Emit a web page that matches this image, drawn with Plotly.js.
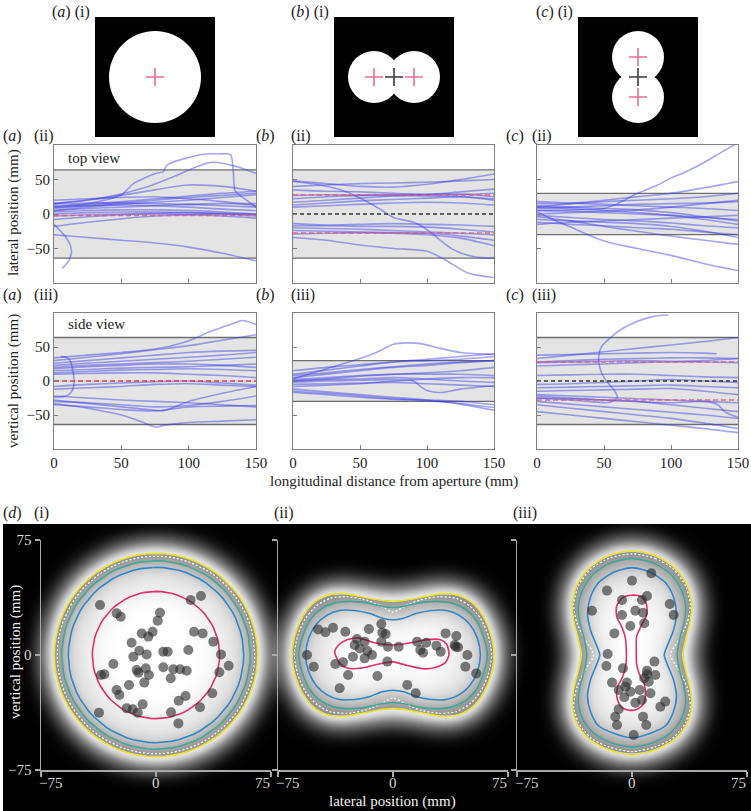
<!DOCTYPE html>
<html><head><meta charset="utf-8">
<script src="https://cdn.plot.ly/plotly-3.0.1.min.js"></script>
<style>html,body{margin:0;padding:0;background:#fff}#chart{width:751px;height:811px}</style>
</head><body><div id="chart"></div>
<script>
const W=751,H=811;
// ================= DATA =================
const X7=[0,25,50,75,100,125,150];
const longTicks=[0,50,100,150];
const posTicks=[-50,0,50];
const dTicks=[-75,0,75];
const dTickText=['\u221275','0','75'];

// aperture images (i): circle centres (mm) and radii
const apCx=[[0],[-25,25],[0,0]];
const apCy=[[0],[0,0],[25,-25]];
const apR=[57.5,32.5,32.5];
const apMidCross=[false,true,true];

// gray band half-widths (top view row, side view row)
const bandTop=[64,64,30];
const bandSide=[64,30,64];
// reference dashed lines
const redTop=[[-2],[27.5,-27.5],[]];
const blackTop=[[],[0],[]];
const redSide=[[0],[],[28,-28]];
const blackSide=[[],[],[0]];

// trajectories: 7 values on X7, or [xs, ys]
const aTop=[
 [[0,25,50,59,76,81,84,98,113,123,131,133,134.5,138,143,150],[10,15,28,44,59,61,71,81,87,87,86,64,34,27,20,10]],
 [[0,40,70,90,108,118,135,150],[15,25,40,55,70,75,69,59]],
 [15,20,27,35,42,40,33],
 [12,14,18,22,26,30,33],
 [8,12,16,20,24,27,30],
 [15,16,16,15,14,12,10],
 [10,12,13,12,10,7,5],
 [5,8,10,12,14,15,15],
 [3,5,6,6,5,3,0],
 [0,2,3,3,2,0,-3],
 [-3,-1,0,0,-1,-3,-6],
 [-8,-4,-1,1,2,1,-1],
 [-18,-12,-7,-3,-1,0,0],
 [-30,-34,-38,-42,-48,-57,-68],
 [[0,5,9,12,13,11,8,6],[-15,-25,-34,-45,-55,-68,-75,-79]],
 [20,22,24,25,22,18,12],
 [5,10,14,17,20,24,28]
];
const bTop=[
 [48,44,40,39,43,50,58],
 [40,42,44,45,46,48,50],
 [[0,20,40,55,65,75,90,98,108,120,135,150],[47,42,32,18,7,-5,-12,-20,-35,-52,-62,-64]],
 [35,33,32,30,28,28,30],
 [27,28,27,27,26,25,22],
 [22,25,27,28,29,29,25],
 [17,20,23,26,28,32,36],
 [13,16,19,21,23,25,20],
 [10,12,14,16,17,16,13],
 [-17,-17,-18,-18,-19,-22,-26],
 [-20,-21,-22,-24,-26,-28,-30],
 [-24,-25,-26,-27,-28,-32,-38],
 [-29,-28,-27,-28,-30,-35,-46],
 [[0,25,50,75,100,115,130,150],[-34,-38,-45,-50,-54,-68,-85,-92]],
 [-14,-16,-15,-14,-15,-16,-18]
];
const cTop=[
 [[0,25,50,60,75,90,100,112,125,138,150],[5,6,8,15,30,42,52,62,75,90,103]],
 [10,15,20,25,30,38,47],
 [15,15,18,20,22,25,30],
 [[0,12,25,50,75,100,125,150],[3,-8,-19,-39,-50,-60,-72,-82]],
 [-4,-10,-18,-25,-32,-38,-44],
 [8,10,12,14,15,16,18],
 [5,4,2,0,-2,-5,-8],
 [12,10,8,6,2,-4,-10],
 [-2,-5,-8,-10,-13,-17,-20],
 [-8,-10,-12,-14,-18,-25,-34],
 [0,2,4,6,10,15,20],
 [-12,-15,-17,-20,-22,-26,-30],
 [10,8,5,2,-2,-8,-15],
 [18,16,14,12,10,8,5],
 [-15,-12,-10,-8,-6,-4,-2]
];
const aSide=[
 [[0,25,50,75,95,105,115,125,135,140,150],[34,38,42,47,56,63,72,79,86,89,83]],
 [30,35,40,46,52,60,68],
 [26,30,34,38,42,44,45],
 [23,26,29,32,35,38,42],
 [20,23,25,27,29,32,35],
 [18,21,23,25,25,23,20],
 [15,17,19,20,21,23,25],
 [12,14,16,17,18,17,15],
 [10,11,12,12,10,8,5],
 [[5,9,12,14,15,14,11,6,0],[36,35,30,15,0,-12,-20,-23,-24]],
 [-8,-5,-3,-1,0,-3,-6],
 [-12,-10,-8,-5,-4,-6,-8],
 [-22,-25,-28,-30,-32,-35,-38],
 [[0,25,50,75,80,90,100,125,150],[-28,-33,-38,-43,-44,-38,-30,-18,-8]],
 [[0,25,50,65,76,80,90,100,125,150],[-33,-40,-50,-60,-68,-66,-63,-61,-59,-57]],
 [-30,-32,-35,-38,-36,-30,-22],
 [-35,-38,-42,-44,-38,-37,-36]
];
const bSide=[
 [[0,25,50,62,75,85,95,110,125,150],[3,18,33,42,54,56,55,48,42,39]],
 [10,16,22,28,32,36,40],
 [15,20,24,28,30,32,36],
 [8,12,17,21,25,28,30],
 [2,5,8,10,10,10,8],
 [0,2,3,5,3,0,-2],
 [0,3,7,10,12,15,20],
 [[0,25,50,75,90,95,100,110,125,150],[-2,0,1,2,0,-8,-14,-17,-12,-7]],
 [-5,-4,-3,-2,-4,-6,-8],
 [-15,-18,-22,-26,-29,-33,-39],
 [-12,-16,-20,-24,-28,-34,-43],
 [-17,-20,-24,-27,-28,-30,-35],
 [5,10,15,20,23,27,30],
 [-8,-6,-4,0,3,5,5]
];
const cSide=[
 [[0,25,45,52,57,60,58,54,50,47,46,48,55,62,74,87,98],[-25,-28,-31,-32,-29,-24,-15,-5,5,19,35,50,64,75,87,95,97]],
 [33,38,43,48,53,58,64],
 [[0,25,50,75,100,125,134],[38,39,40,41,42,41,40]],
 [28,30,32,33,34,34,33],
 [27,28,29,30,29,28,27],
 [22,24,25,27,28,30,33],
 [8,9,10,10,8,6,5],
 [-5,-4,-2,0,2,0,-2],
 [-10,-9,-8,-7,-6,-8,-10],
 [-15,-14,-13,-12,-11,-15,-20],
 [-20,-22,-24,-26,-28,-30,-32],
 [-25,-26,-28,-30,-35,-40,-45],
 [[0,50,100,125,135,140,145,150],[-22,-28,-32,-30,-35,-45,-50,-53]],
 [-35,-40,-45,-50,-55,-62,-70],
 [-45,-50,-55,-60,-65,-70,-76],
 [-30,-34,-38,-42,-46,-50,-55]
];

// (d) contour levels
const contourNames=['yellow','wdash','teal','blue','pink'];
const d1Radii=[66.3,64.4,61.5,57.2,41.5];
// (d)(ii) first-quadrant points, from (xmax,0) to (0,neck)
const d2YellowX=[66,64,59,52,43,32,20,10,0], d2YellowY=[0,13,25,34,39,40,38,36,35];
const d2WdashX=[64.4,62,57,50,41,30,18,8,0],  d2WdashY=[0,13,24,32,37,38,36,32,28];
const d2TealX=[61.5,59,54,47,38,28,17,8,0],   d2TealY=[0,12,23,30,34,35,34,32,31];
const d2BlueX=[57,55,50,43,35,25,15,7,0],     d2BlueY=[0,11,20,26,29,29,27,24,23];
const d2PinkX=[-38,-35,-30,-22,-12,0,12,22,31,35,36.5,34,28,20,10,0,-10,-20,-30,-35,-38];
const d2PinkY=[2,7,10,11,8,6.5,8,10,10,7,0,-5,-8,-9,-7,-4.5,-6,-8.5,-8.5,-5,2];
// (d)(iii) right half, top to bottom
const d3YellowX=[0,15,28,36,39,38,35,33,35,38,39,36,28,15,0], d3YellowY=[68,65,57,46,34,22,10,0,-10,-22,-34,-45,-55,-62,-65];
const d3WdashX=[0,15,27,35,38,36,30,25,30,36,38,35,27,15,0],  d3WdashY=[66,63,56,45,33,21,9,0,-9,-21,-33,-44,-54,-60,-63];
const d3TealX=[0,14,25,32,35,34,31,29.5,31,34,35,32,25,14,0], d3TealY=[63,60,53,43,32,21,10,0,-10,-21,-32,-42,-51,-57,-60];
const d3BlueX=[0,12,22,27,29,27,23,21,23,27,29,27,22,12,0],   d3BlueY=[57,54,47,38,27,16,6,0,-6,-16,-27,-37,-46,-51,-54];
const d3PinkX=[0,6,9.5,9.5,6,3,2.8,3,5,8,8.7,7.5,3,-2,-7,-9.8,-9.5,-6,-4,-3.7,-4.5,-7,-10,-10,-6,0];
const d3PinkY=[39,38,33,26,19,12,3,-6,-13,-19,-26,-32,-35.5,-36,-34,-28,-21,-14,-6,3,12,19,25,32,37.5,39];

// (d) landing points
const d1PtsX=[-36.5,-25.7,-23,2.6,1.1,22.6,29.3,-9.3,-5,-2.2,24.8,30.4,-15.9,37.4,-10.9,-14.8,-6.1,4.8,7.6,21.1,42.4,-27.8,47.4,41.3,-35.9,-33.7,-12.6,-11.5,-6.7,-4.6,4.8,11.3,15.7,20,9.6,-7.6,-17.6,-25.7,-23.9,19.3,14.8,36.7,-8.7,-19.1,-15.2,-11.9,-37.2,9.8,28.7,14.6];
const d1PtsY=[32.6,27.2,25,27.6,22.4,35.9,38.5,14.1,12,15.2,15.2,14.1,8,8.7,2.8,-1.1,0.4,2.2,2.2,3.3,0.4,-5.9,-7,-11.3,-13,-12.6,-9.8,-11.5,-8.7,-13,-8,-9.3,-9.3,-10.2,-15.2,-18,-19.6,-22.8,-26,-26.7,-29.8,-25,-32.2,-34.8,-35.4,-37.6,-37.6,-37.4,-34.1,-44.6];
const d2PtsX=[-48.9,-44.1,-39.1,-31.1,-23.5,-15.7,-7.6,-7,-4.8,-7.6,-18.5,-25,-21.7,-16.7,-13.7,-18.5,-26.1,-3.3,3.7,-3.7,-37.6,-32.6,-56.1,-51.7,-29.3,-34.8,-10.2,9.3,14.8,15.7,21.7,17.8,19.6,28.3,31.1,34.3,41.3,40.2,42.4,48.5,47.2,54.3,40.9];
const d2PtsY=[16.7,14.8,17.8,15.2,10.4,17,20.2,14.6,13.7,8.7,8.7,6.5,4.3,2.6,0,-2.2,-1.1,5.4,5.4,-4.3,-5.9,-4.8,0,-7.6,-13,-21.7,-13.7,-19.6,-25,8.7,8,3.3,1.5,6.1,2.2,14.1,12.4,6.5,5,0,-7.6,-12,5.4];
const d3PtsX=[12.6,0,-16.3,-6.5,9.8,6.5,24.6,27.2,-26.1,-6.5,2.2,7.2,-1.1,8,-11.5,-15.9,-16.7,-5.9,14.6,9.8,15.2,8,-13,-3.3,-4.3,-1.1,5,12,-5,2.2,6.5,-8.7,-10.9,-9.8,7.2,9.3,1.1,18.5,21.7,10.9,-8.7,9.8];
const d3PtsY=[53.3,48.5,42,35.9,38.5,35.9,33.3,26.1,28.9,26.1,28.9,27.6,18.9,20.7,14.1,0.7,-7.2,-8.7,-4.3,-12.6,-13,-15.2,-18,-18,-20.7,-23.9,-22.8,-25,-27.6,-31.1,-29.3,-35.4,-40.2,-45.7,-40.2,-45.7,-52.2,-33.7,-30.4,-17.4,-22.8,-10.2];

// ================= STYLES / POSITIONS =================
const COL={yellow:'#ece22a',wdash:'#ffffff',teal:'#43a596',blue:'#2f86c8',pink:'#e2306c'};
const SERIF='Liberation Serif';
const topXpx=[[95,215],[334,454],[578,698]]; const topYpx=[17,137];
const midXpx=[[54,256],[293,494],[537,738]]; const rowIIpx=[145,283], rowIIIpx=[313,449];
const dXpx=[[41,271],[278,508],[517,747]]; const dYpx=[540,770];
const px=x=>x/W, py=y=>1-y/H;
const sfx=n=>n===1?'':String(n);

const data=[], shapes=[], annotations=[];
const layout={width:W,height:H,margin:{l:0,r:0,t:0,b:0},paper_bgcolor:'#ffffff',
  plot_bgcolor:'rgba(0,0,0,0)',showlegend:false,font:{family:SERIF,color:'#222'}};

// ---------- top aperture images ----------
for(let i=0;i<3;i++){
  const n=i+1,s=sfx(n);
  layout['xaxis'+s]={domain:[px(topXpx[i][0]),px(topXpx[i][1])],range:[-75,75],visible:false,anchor:'y'+s,fixedrange:true};
  layout['yaxis'+s]={domain:[py(topYpx[1]),py(topYpx[0])],range:[-75,75],visible:false,anchor:'x'+s,fixedrange:true};
  shapes.push({type:'rect',xref:'x'+s,yref:'y'+s,x0:-75,x1:75,y0:-75,y1:75,fillcolor:'#000',line:{width:0},layer:'below'});
  apCx[i].forEach((cx,j)=>{const cy=apCy[i][j],r=apR[i];
    shapes.push({type:'circle',xref:'x'+s,yref:'y'+s,x0:cx-r,x1:cx+r,y0:cy-r,y1:cy+r,fillcolor:'#fff',line:{width:0},layer:'below'});});
  data.push({type:'scatter',mode:'markers',x:apCx[i],y:apCy[i],xaxis:'x'+s,yaxis:'y'+s,
    marker:{symbol:'cross-thin',size:13,line:{width:1.6,color:'#e36f98'}},hoverinfo:'skip'});
  if(apMidCross[i]) data.push({type:'scatter',mode:'markers',x:[0],y:[0],xaxis:'x'+s,yaxis:'y'+s,
    marker:{symbol:'cross-thin',size:13,line:{width:1.6,color:'#3a3a3a'}},hoverinfo:'skip'});
}

// ---------- trajectory panels ----------
const panels=[
 {lines:aTop,band:bandTop[0],red:redTop[0],blk:blackTop[0],col:0,row:'ii'},
 {lines:bTop,band:bandTop[1],red:redTop[1],blk:blackTop[1],col:1,row:'ii'},
 {lines:cTop,band:bandTop[2],red:redTop[2],blk:blackTop[2],col:2,row:'ii'},
 {lines:aSide,band:bandSide[0],red:redSide[0],blk:blackSide[0],col:0,row:'iii'},
 {lines:bSide,band:bandSide[1],red:redSide[1],blk:blackSide[1],col:1,row:'iii'},
 {lines:cSide,band:bandSide[2],red:redSide[2],blk:blackSide[2],col:2,row:'iii'}
];
panels.forEach((p,k)=>{
  const n=4+k,s=sfx(n);
  const yp=p.row==='ii'?rowIIpx:rowIIIpx;
  layout['xaxis'+s]={domain:[px(midXpx[p.col][0]),px(midXpx[p.col][1])],range:[0,150],anchor:'y'+s,
    showline:true,mirror:true,linecolor:'#808080',linewidth:1,ticks:'inside',ticklen:4,tickcolor:'#808080',
    tickvals:longTicks,showticklabels:p.row==='iii',showgrid:false,zeroline:false,fixedrange:true,
    tickfont:{family:SERIF,size:15,color:'#222'}};
  layout['yaxis'+s]={domain:[py(yp[1]),py(yp[0])],range:[-100,100],anchor:'x'+s,
    showline:true,mirror:true,linecolor:'#808080',linewidth:1,ticks:'inside',ticklen:4,tickcolor:'#808080',
    tickvals:posTicks,showticklabels:p.col===0,showgrid:false,zeroline:false,fixedrange:true,
    tickfont:{family:SERIF,size:15,color:'#222'}};
  shapes.push({type:'rect',xref:'x'+s,yref:'y'+s,x0:0,x1:150,y0:-p.band,y1:p.band,fillcolor:'#e4e4e4',line:{width:0},layer:'below'});
  [p.band,-p.band].forEach(v=>shapes.push({type:'line',xref:'x'+s,yref:'y'+s,x0:0,x1:150,y0:v,y1:v,line:{color:'#6e6e6e',width:1.3},layer:'below'}));
  p.lines.forEach(L=>{
    const xs=typeof L[0]==='number'?X7:L[0];
    const ys=typeof L[0]==='number'?L:L[1];
    data.push({type:'scatter',mode:'lines',x:xs,y:ys,xaxis:'x'+s,yaxis:'y'+s,cliponaxis:true,
      line:{color:'rgba(55,55,235,0.45)',width:1.6,shape:'spline',smoothing:0.8},hoverinfo:'skip'});
  });
  p.red.forEach(v=>data.push({type:'scatter',mode:'lines',x:[0,150],y:[v,v],xaxis:'x'+s,yaxis:'y'+s,
    line:{color:p.col===0&&p.row==='iii'?'#e2364f':'rgba(226,90,120,0.85)',width:1.5,dash:'5px,3px'},hoverinfo:'skip'}));
  p.blk.forEach(v=>data.push({type:'scatter',mode:'lines',x:[0,150],y:[v,v],xaxis:'x'+s,yaxis:'y'+s,
    line:{color:'#333',width:1.5,dash:'4px,3px'},hoverinfo:'skip'}));
});

// ---------- (d) landing panels ----------
function circleLoop(r){const xs=[],ys=[];for(let a=0;a<=360;a+=5){xs.push(r*Math.cos(a*Math.PI/180));ys.push(r*Math.sin(a*Math.PI/180));}return [xs,ys];}
function quadLoop(qx,qy){const xs=[],ys=[],n=qx.length;
  for(let i=0;i<n;i++){xs.push(qx[i]);ys.push(qy[i]);}
  for(let i=n-2;i>=0;i--){xs.push(-qx[i]);ys.push(qy[i]);}
  for(let i=1;i<n;i++){xs.push(-qx[i]);ys.push(-qy[i]);}
  for(let i=n-2;i>=0;i--){xs.push(qx[i]);ys.push(-qy[i]);}
  return [xs,ys];}
function halfLoop(hx,hy){const xs=[],ys=[],n=hx.length;
  for(let i=0;i<n;i++){xs.push(hx[i]);ys.push(hy[i]);}
  for(let i=n-2;i>=0;i--){xs.push(-hx[i]);ys.push(hy[i]);}
  return [xs,ys];}
const dLoops=[
 {yellow:circleLoop(d1Radii[0]),wdash:circleLoop(d1Radii[1]),teal:circleLoop(d1Radii[2]),blue:circleLoop(d1Radii[3]),pink:circleLoop(d1Radii[4])},
 {yellow:quadLoop(d2YellowX,d2YellowY),wdash:quadLoop(d2WdashX,d2WdashY),teal:quadLoop(d2TealX,d2TealY),blue:quadLoop(d2BlueX,d2BlueY),pink:[d2PinkX,d2PinkY]},
 {yellow:halfLoop(d3YellowX,d3YellowY),wdash:halfLoop(d3WdashX,d3WdashY),teal:halfLoop(d3TealX,d3TealY),blue:halfLoop(d3BlueX,d3BlueY),pink:[d3PinkX,d3PinkY]}
];
const dPts=[[d1PtsX,d1PtsY],[d2PtsX,d2PtsY],[d3PtsX,d3PtsY]];
for(let i=0;i<3;i++){
  const n=10+i,s=sfx(n);
  const common={range:[-75,75],showline:true,linecolor:'#a8a8a8',linewidth:1.5,ticks:'outside',ticklen:5,
    tickcolor:'#a8a8a8',tickwidth:1.2,tickvals:dTicks,showgrid:false,zeroline:false,fixedrange:true,
    tickfont:{family:SERIF,size:15,color:'#d8d8d8'}};
  layout['xaxis'+s]=Object.assign({},common,{domain:[px(dXpx[i][0]),px(dXpx[i][1])],anchor:'y'+s,showticklabels:false});
  layout['yaxis'+s]=Object.assign({},common,{domain:[py(dYpx[1]),py(dYpx[0])],anchor:'x'+s,showticklabels:i===0});
  contourNames.forEach(nm=>{
    const L=dLoops[i][nm];
    data.push({type:'scatter',mode:'lines',x:L[0],y:L[1],xaxis:'x'+s,yaxis:'y'+s,
      line:{color:COL[nm],width:nm==='wdash'?1.2:1.6,dash:nm==='wdash'?'2px,2px':'solid',shape:i===0?'linear':'spline',smoothing:0.7},hoverinfo:'skip'});
  });
  data.push({type:'scatter',mode:'markers',x:dPts[i][0],y:dPts[i][1],xaxis:'x'+s,yaxis:'y'+s,
    marker:{size:10,color:'rgba(45,45,45,0.62)',line:{width:0}},hoverinfo:'skip'});
}

// ---------- glow background (canvas image) ----------
function buildGlow(){
  const ox=3,oy=524,cw=748,ch=287,k=230/150;
  const centers=[[156,655],[393,655],[632,655]];
  const c=document.createElement('canvas');c.width=cw;c.height=ch;
  const g=c.getContext('2d');
  g.fillStyle='#000';g.fillRect(0,0,cw,ch);
  function mkPath(L,cx,cy,sc){
    const xs=L[0],ys=L[1];let n=xs.length;
    if(Math.abs(xs[0]-xs[n-1])<1e-6&&Math.abs(ys[0]-ys[n-1])<1e-6)n--;
    const P=[];for(let j=0;j<n;j++)P.push([cx-ox+xs[j]*sc*k,cy-oy-ys[j]*sc*k]);
    const path=new Path2D();
    const m=(a,b)=>[(a[0]+b[0])/2,(a[1]+b[1])/2];
    let s0=m(P[n-1],P[0]);path.moveTo(s0[0],s0[1]);
    for(let j=0;j<n;j++){const q=P[(j+1)%n],mm=m(P[j],q);path.quadraticCurveTo(P[j][0],P[j][1],mm[0],mm[1]);}
    path.closePath();return path;}
  for(let i=0;i<3;i++){
    const [cx,cy]=centers[i],Ls=dLoops[i];
    const pY=mkPath(Ls.yellow,cx,cy,1),pT=mkPath(Ls.teal,cx,cy,1),pB=mkPath(Ls.blue,cx,cy,1),pI=mkPath(Ls.blue,cx,cy,0.75);
    g.save();
    g.filter='blur(12px)';g.fillStyle='#fff';g.strokeStyle='#fff';g.lineWidth=18;g.fill(pY);g.stroke(pY);
    g.filter='blur(4px)';g.lineWidth=7;g.stroke(pY);
    g.filter='none';g.fillStyle='#959595';g.fill(pY);
    g.filter='blur(3px)';g.fillStyle='#adadad';g.fill(pT);
    g.filter='blur(7px)';g.fillStyle='#e0e0e0';g.fill(pB);
    g.filter='blur(14px)';g.fillStyle='#ffffff';g.fill(pI);
    g.restore();
  }
  return c.toDataURL('image/png');
}
layout.images=[{source:buildGlow(),xref:'paper',yref:'paper',x:px(3),y:py(524),sizex:748/W,sizey:287/H,
  xanchor:'left',yanchor:'top',sizing:'stretch',layer:'below'}];

// ---------- annotations ----------
function ann(text,x,y,o){annotations.push(Object.assign({text:text,xref:'paper',yref:'paper',x:px(x),y:py(y),
  showarrow:false,xanchor:'left',yanchor:'middle',font:{family:SERIF,size:16,color:'#222'}},o||{}));}
const NB='\u00a0';
ann('(<i>a</i>)'+NB+'(i)',92,11.5,{xanchor:'right'});
ann('(<i>b</i>)'+NB+'(i)',331,11.5,{xanchor:'right'});
ann('(<i>c</i>)'+NB+'(i)',575,11.5,{xanchor:'right'});
[['a',1],['b',254],['c',504]].forEach((L,j)=>{
  const numX=[32,289,530][j];
  ann('(<i>'+L[0]+'</i>)',L[1],135.5);ann('(ii)',numX,135.5);
  ann('(<i>'+L[0]+'</i>)',L[1],295);ann('(iii)',numX,295);
});
ann('(<i>d</i>)',1,513);ann('(i)',32,513);ann('(ii)',272,513);ann('(iii)',511,513);
ann('top view',66,158,{font:{family:SERIF,size:15,color:'#222'}});
ann('side view',66,324,{font:{family:SERIF,size:15,color:'#222'}});
ann('lateral position (mm)',13,213,{xanchor:'center',textangle:-90,font:{family:SERIF,size:15,color:'#222'}});
ann('vertical position (mm)',13,381,{xanchor:'center',textangle:-90,font:{family:SERIF,size:15,color:'#222'}});
ann('longitudinal distance from aperture (mm)',394,482,{xanchor:'center',font:{family:SERIF,size:15,color:'#222'}});
ann('vertical position (mm)',15,652,{xanchor:'center',textangle:-90,font:{family:SERIF,size:15,color:'#f2f2f2'}});
ann('lateral position (mm)',393,801,{xanchor:'center',font:{family:SERIF,size:15,color:'#f2f2f2'}});
// bottom x tick labels (end labels pulled inward as in the figure)
for(let i=0;i<3;i++){
  const x0=dXpx[i][0],x1=dXpx[i][1],xm=(x0+x1)/2;
  const f={family:SERIF,size:15,color:'#d8d8d8'};
  ann(dTickText[0],x0-4,783,{xanchor:'left',font:f});
  ann(dTickText[1],xm,783,{xanchor:'center',font:f});
  ann(dTickText[2],x1+1,783,{xanchor:'right',font:f});
}

layout.shapes=shapes;layout.annotations=annotations;
Plotly.newPlot('chart',data,layout,{staticPlot:true,displayModeBar:false});
</script></body></html>
